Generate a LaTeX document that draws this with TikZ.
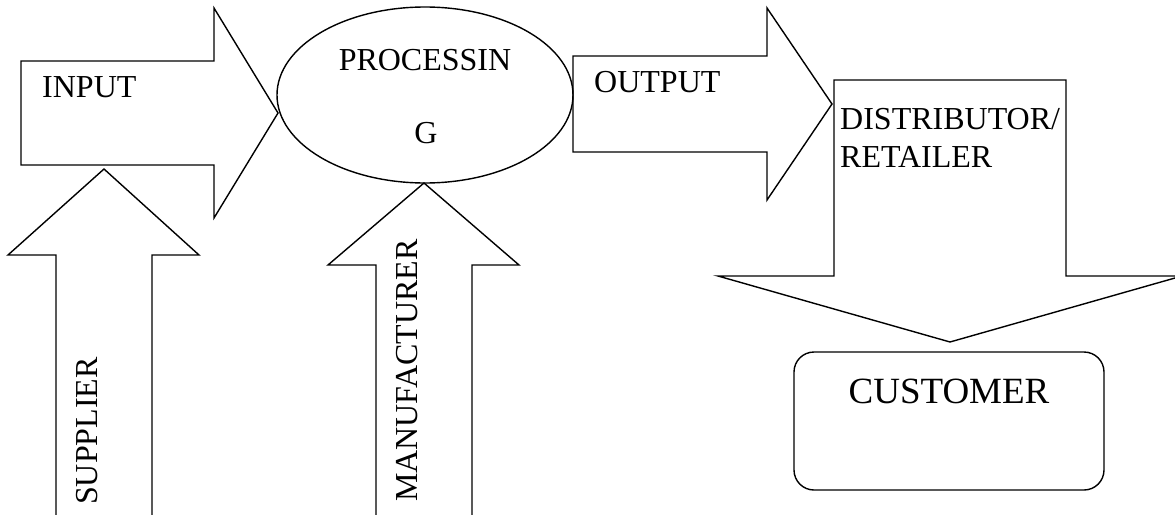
\documentclass[tikz,border=0pt]{standalone}
\usepackage{fontspec}
\setmainfont{Liberation Serif}
\usetikzlibrary{shapes.geometric}
\tikzset{
  blockarrow/.style={draw=black, line width=1.4pt, line join=miter},
  lbl/.style={inner sep=0pt, font=\fontsize{32}{38}\selectfont},
  biglbl/.style={inner sep=0pt, font=\fontsize{37}{44}\selectfont},
}
\begin{document}
\begin{tikzpicture}[x=1pt,y=-1pt]
\useasboundingbox (0,0) rectangle (1175,514);
\clip (0,0) rectangle (1175,514);
% INPUT arrow
\draw[blockarrow] (21,61) -- (214,61) -- (214,8) -- (278,113) -- (214,218) -- (214,165) -- (21,165) -- cycle;
\node[lbl, anchor=base west] (input) at (42,97) {INPUT};
% PROCESSING ellipse
\node[draw, line width=1.4pt, ellipse, minimum width=296pt, minimum height=176pt, inner sep=0pt] (proc) at (425,95) {};
\node[lbl, anchor=base] (procA) at (425,70) {PROCESSIN};
\node[lbl, anchor=base] (procB) at (426,143) {G};
% OUTPUT arrow
\draw[blockarrow] (573,56) -- (767,56) -- (767,8) -- (832,104) -- (767,200) -- (767,152) -- (573,152) -- cycle;
\node[lbl, anchor=base west] (output) at (594,92) {OUTPUT};
% DISTRIBUTOR down arrow
\draw[blockarrow] (834,80) -- (1066,80) -- (1066,276) -- (1182,276) -- (950,342) -- (718,276) -- (834,276) -- cycle;
\node[lbl, anchor=base west] (dist) at (840,129) {DISTRIBUTOR/};
\node[lbl, anchor=base west] (ret) at (840,167) {RETAILER};
% CUSTOMER
\node[draw, line width=1.4pt, rounded corners=20pt, minimum width=310pt, minimum height=138pt, inner sep=0pt] (cust) at (949,421) {};
\node[biglbl, anchor=base] (custtxt) at (949,403) {CUSTOMER};
% SUPPLIER up arrow
\draw[blockarrow] (56,530) -- (56,255) -- (8,255) -- (104,169) -- (199,255) -- (152,255) -- (152,530);
\node[lbl, anchor=base west, rotate=90] (sup) at (97,505) {SUPPLIER};
% MANUFACTURER up arrow
\draw[blockarrow] (376,530) -- (376,265) -- (328,265) -- (424,183) -- (519,265) -- (472,265) -- (472,530);
\node[lbl, anchor=base west, rotate=90] (man) at (417,502) {MANUFACTURER};
\end{tikzpicture}
\end{document}
